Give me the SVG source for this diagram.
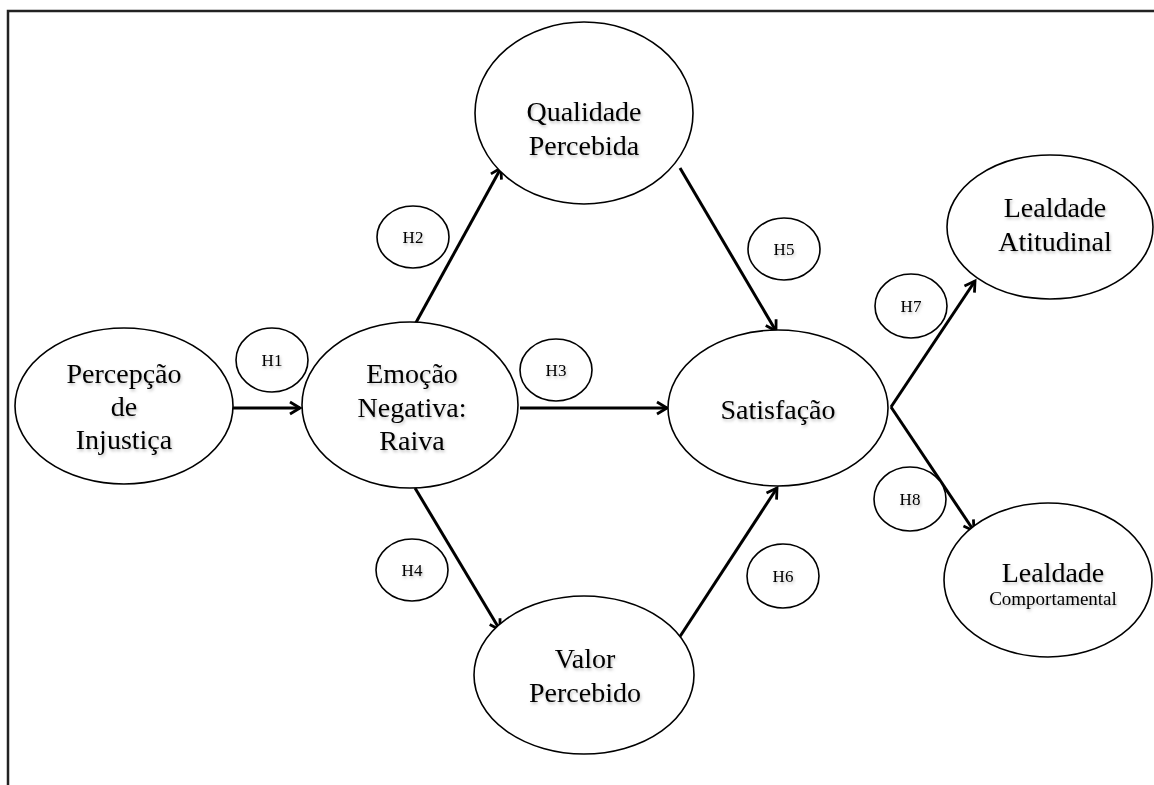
<svg xmlns="http://www.w3.org/2000/svg" width="1154" height="785" viewBox="0 0 1154 785">
<style>
.node{fill:#fff;stroke:#000;stroke-width:1.6}
.lbl{font-family:"Liberation Serif","Times New Roman",serif;font-size:28px;fill:#000;text-anchor:middle}
.sm{font-size:19px}
.h{font-family:"Liberation Serif","Times New Roman",serif;font-size:17px;fill:#000;text-anchor:middle}
.edge{stroke:#000;stroke-width:3;fill:none}
</style>
<defs>
<marker id="arr" viewBox="0 0 16 16" refX="13" refY="8" markerWidth="16" markerHeight="16" markerUnits="userSpaceOnUse" orient="auto">
<path d="M3,2 L13,8 L3,14" fill="none" stroke="#000" stroke-width="2.8" stroke-linejoin="miter"/>
</marker>
<filter id="sh" x="-10%" y="-30%" width="120%" height="160%">
<feDropShadow dx="1" dy="2" stdDeviation="1.5" flood-color="#000" flood-opacity="0.25"/>
</filter>
</defs>
<rect width="1154" height="785" fill="#fff"/>
<path d="M8,785 V11 H1154" fill="none" stroke="#222" stroke-width="2.5"/>

<g id="connectors">
<line class="edge" x1="233" y1="408" x2="300" y2="408" marker-end="url(#arr)"/>
<line class="edge" x1="413" y1="328" x2="501" y2="168" marker-end="url(#arr)"/>
<line class="edge" x1="680" y1="168" x2="776" y2="331" marker-end="url(#arr)"/>
<line class="edge" x1="520" y1="408" x2="667" y2="408" marker-end="url(#arr)"/>
<line class="edge" x1="415" y1="488" x2="500" y2="630" marker-end="url(#arr)"/>
<line class="edge" x1="679" y1="638" x2="777" y2="488" marker-end="url(#arr)"/>
<line class="edge" x1="891" y1="407" x2="975" y2="281" marker-end="url(#arr)"/>
<line class="edge" x1="891" y1="407" x2="974" y2="531" marker-end="url(#arr)"/>
</g>

<g id="percepcao">
<ellipse class="node" cx="124" cy="406" rx="109" ry="78"/>
<text class="lbl" filter="url(#sh)" x="124" y="383">Percepção</text>
<text class="lbl" filter="url(#sh)" x="124" y="416">de</text>
<text class="lbl" filter="url(#sh)" x="124" y="449">Injustiça</text>
</g>
<g id="emocao">
<ellipse class="node" cx="410" cy="405" rx="108" ry="83"/>
<text class="lbl" filter="url(#sh)" x="412" y="383">Emoção</text>
<text class="lbl" filter="url(#sh)" x="412" y="417">Negativa:</text>
<text class="lbl" filter="url(#sh)" x="412" y="450">Raiva</text>
</g>
<g id="qualidade">
<ellipse class="node" cx="584" cy="113" rx="109" ry="91"/>
<text class="lbl" filter="url(#sh)" x="584" y="121">Qualidade</text>
<text class="lbl" filter="url(#sh)" x="584" y="155">Percebida</text>
</g>
<g id="satisfacao">
<ellipse class="node" cx="778" cy="408" rx="110" ry="78"/>
<text class="lbl" filter="url(#sh)" x="778" y="419">Satisfação</text>
</g>
<g id="valor">
<ellipse class="node" cx="584" cy="675" rx="110" ry="79"/>
<text class="lbl" filter="url(#sh)" x="585" y="668">Valor</text>
<text class="lbl" filter="url(#sh)" x="585" y="702">Percebido</text>
</g>
<g id="lealdade-atitudinal">
<ellipse class="node" cx="1050" cy="227" rx="103" ry="72"/>
<text class="lbl" filter="url(#sh)" x="1055" y="217">Lealdade</text>
<text class="lbl" filter="url(#sh)" x="1055" y="251">Atitudinal</text>
</g>
<g id="lealdade-comportamental">
<ellipse class="node" cx="1048" cy="580" rx="104" ry="77"/>
<text class="lbl" filter="url(#sh)" x="1053" y="582">Lealdade</text>
<text class="lbl sm" filter="url(#sh)" x="1053" y="605">Comportamental</text>
</g>

<g id="h1"><ellipse class="node" cx="272" cy="360" rx="36" ry="32"/><text class="h" filter="url(#sh)" x="272" y="366">H1</text></g>
<g id="h2"><ellipse class="node" cx="413" cy="237" rx="36" ry="31"/><text class="h" filter="url(#sh)" x="413" y="243">H2</text></g>
<g id="h3"><ellipse class="node" cx="556" cy="370" rx="36" ry="31"/><text class="h" filter="url(#sh)" x="556" y="376">H3</text></g>
<g id="h4"><ellipse class="node" cx="412" cy="570" rx="36" ry="31"/><text class="h" filter="url(#sh)" x="412" y="576">H4</text></g>
<g id="h5"><ellipse class="node" cx="784" cy="249" rx="36" ry="31"/><text class="h" filter="url(#sh)" x="784" y="255" font-size="16">H5</text></g>
<g id="h6"><ellipse class="node" cx="783" cy="576" rx="36" ry="32"/><text class="h" filter="url(#sh)" x="783" y="582" font-size="16">H6</text></g>
<g id="h7"><ellipse class="node" cx="911" cy="306" rx="36" ry="32"/><text class="h" filter="url(#sh)" x="911" y="312" font-size="16">H7</text></g>
<g id="h8"><ellipse class="node" cx="910" cy="499" rx="36" ry="32"/><text class="h" filter="url(#sh)" x="910" y="505" font-size="16">H8</text></g>
</svg>
